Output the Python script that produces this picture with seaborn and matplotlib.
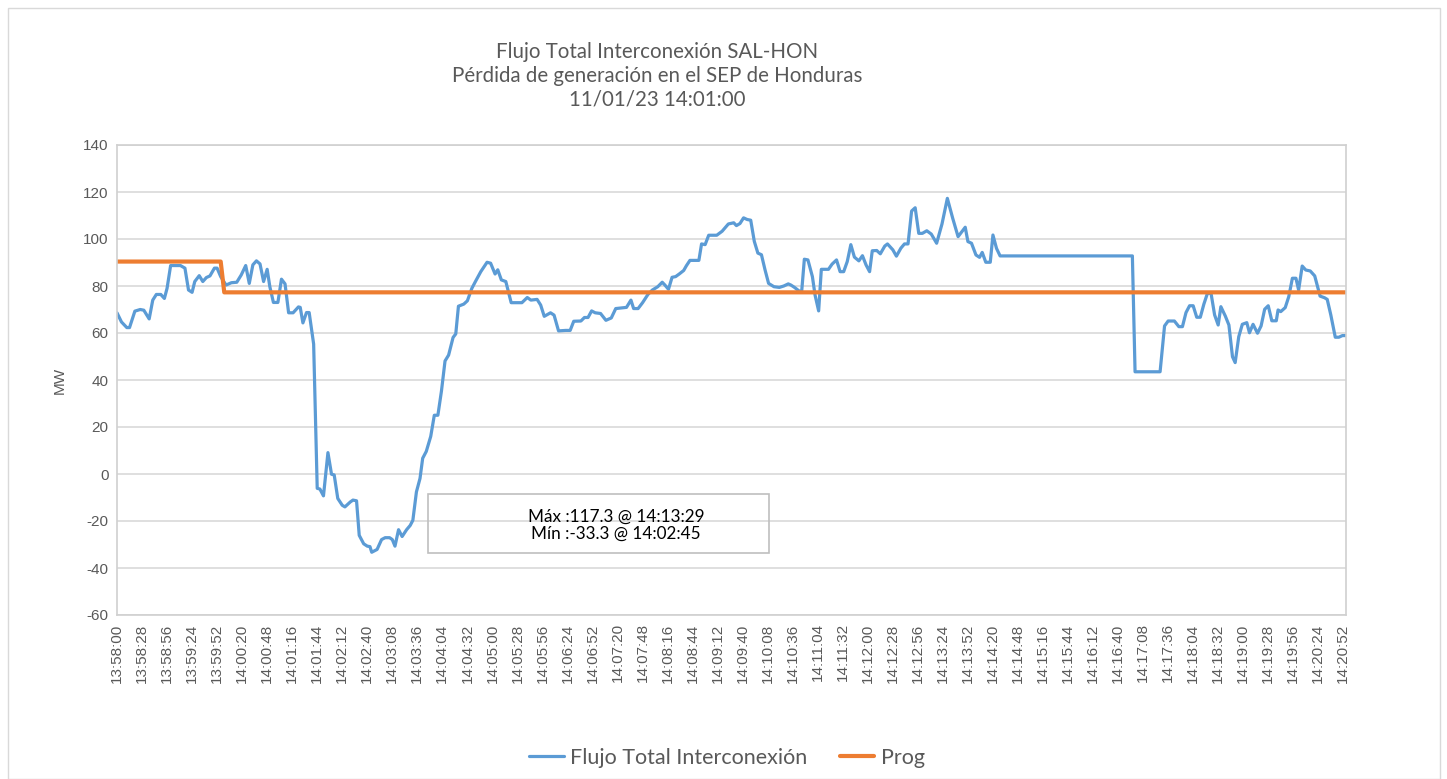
import pandas as pd
import matplotlib.pyplot as plt
import matplotlib.patches as mpatches
from matplotlib.lines import Line2D
import seaborn as sns

# segundos desde 13:58:00 y valor leido (MW)
t_sec = [0, 5, 11, 14, 20, 26, 30, 36, 40, 44, 49, 53, 56, 60, 71, 76, 80, 84, 87, 92,
         96, 100, 104, 109, 112, 116, 122, 128, 134, 139, 144, 148, 152, 156, 160, 164, 168, 171, 175, 180,
         184, 188, 192, 197, 203, 205, 208, 212, 215, 220, 224, 227, 231, 236, 240, 243, 247, 252, 255, 261,
         264, 268, 271, 276, 280, 283, 285, 291, 296, 300, 305, 308, 311, 315, 319, 324, 328, 331, 335, 339,
         342, 346, 351, 355, 359, 363, 367, 371, 376, 379, 382, 388, 392, 397, 401, 407, 414, 418, 423, 426,
         430, 435, 441, 453, 459, 463, 470, 474, 478, 485, 489, 494, 502, 507, 511, 519, 523, 527, 531, 535,
         541, 547, 553, 558, 570, 575, 578, 583, 588, 594, 599, 605, 610, 613, 617, 621, 625, 629, 634, 637,
         641, 651, 654, 658, 662, 671, 677, 684, 690, 693, 697, 701, 705, 709, 713, 717, 721, 725, 729, 735,
         741, 746, 751, 754, 758, 763, 766, 769, 773, 778, 781, 785, 788, 796, 800, 805, 809, 813, 817, 821,
         825, 830, 834, 838, 842, 845, 850, 854, 859, 862, 868, 872, 877, 881, 885, 889, 893, 897, 901, 906,
         911, 917, 923, 929, 935, 941, 949, 952, 956, 961, 965, 968, 972, 977, 980, 984, 988, 1136, 1139, 1167,
         1172, 1176, 1183, 1188, 1192, 1196, 1200, 1204, 1208, 1212, 1216, 1220, 1224, 1228, 1232, 1235, 1240, 1244, 1248, 1251,
         1255, 1259, 1264, 1267, 1271, 1276, 1280, 1284, 1288, 1292, 1297, 1299, 1302, 1307, 1311, 1315, 1319, 1322, 1326, 1330,
         1335, 1340, 1346, 1351, 1354, 1358, 1363, 1367, 1371, 1375]
flujo = [68.6, 64.7, 62.3, 62.3, 69.3, 70.0, 69.7, 66.0, 74.0, 76.4, 76.4, 74.7, 79.0, 88.7, 88.7, 87.6, 78.3, 77.3, 81.9, 84.4,
         81.9, 83.6, 84.3, 87.6, 87.6, 84.0, 80.4, 81.4, 81.6, 84.7, 88.7, 81.1, 89.0, 90.7, 89.4, 81.9, 87.1, 79.7, 73.0, 73.0,
         82.9, 80.9, 68.6, 68.6, 71.1, 70.9, 64.3, 68.7, 68.7, 55.3, -6.1, -6.4, -9.3, 9.1, -0.1, -0.4, -10.4, -13.3, -14.0, -11.9,
         -11.1, -11.4, -26.1, -29.7, -30.7, -30.9, -33.3, -32.1, -27.9, -27.1, -27.1, -27.9, -30.7, -23.7, -26.6, -23.7, -21.9, -19.7, -7.6, -1.9,
         6.7, 9.6, 16.0, 25.0, 25.0, 35.3, 48.1, 50.6, 58.1, 59.6, 71.4, 72.3, 73.7, 79.0, 81.9, 86.1, 90.1, 89.7, 85.1, 86.9,
         82.6, 81.9, 72.9, 72.9, 75.1, 74.0, 74.3, 71.9, 67.1, 68.6, 67.6, 60.9, 61.1, 61.1, 65.0, 65.1, 66.6, 66.6, 69.4, 68.6,
         68.3, 65.4, 66.4, 70.4, 70.9, 74.0, 70.4, 70.4, 72.9, 76.4, 78.3, 79.7, 81.6, 80.4, 78.6, 83.7, 84.0, 85.1, 86.6, 88.6,
         90.9, 90.9, 97.9, 97.6, 101.6, 101.6, 103.3, 106.4, 106.9, 105.7, 106.6, 109.0, 108.3, 108.0, 99.0, 94.0, 93.3, 86.9, 81.1, 79.7,
         79.4, 80.0, 80.9, 80.4, 79.4, 77.9, 77.6, 91.4, 91.1, 84.0, 76.1, 69.4, 87.1, 87.1, 89.3, 91.1, 86.1, 86.1, 90.4, 97.6,
         92.3, 90.7, 92.9, 89.0, 86.1, 95.0, 95.1, 93.7, 97.0, 97.9, 95.4, 92.7, 96.1, 97.9, 97.9, 111.9, 113.3, 102.4, 102.4, 103.5,
         102.1, 98.2, 106.4, 117.3, 108.8, 101.0, 105.0, 98.9, 98.2, 93.2, 92.2, 94.3, 90.1, 90.1, 101.7, 96.0, 92.8, 92.8, 43.5, 43.5,
         63.0, 65.1, 65.1, 62.7, 62.7, 68.7, 71.6, 71.6, 66.7, 66.7, 72.3, 76.9, 76.9, 67.7, 63.4, 71.2, 67.2, 63.4, 49.9, 47.4,
         58.4, 63.7, 64.4, 60.1, 63.7, 59.9, 63.0, 70.1, 71.6, 65.2, 65.2, 69.8, 69.1, 70.8, 75.5, 83.3, 83.3, 78.3, 88.5, 86.8,
         86.4, 84.3, 75.7, 75.0, 74.3, 67.7, 58.2, 58.2, 58.9, 58.9]

prog_t = [0, 116, 120, 1375]
prog = [90.4, 90.4, 77.3, 77.3]

titulo = ['Flujo Total Interconexión SAL-HON',
          'Pérdida de generación en el SEP de Honduras',
          '11/01/23 14:01:00']
texto_caja = 'Máx :117.3 @ 14:13:29\nMín :-33.3 @ 14:02:45'

df = pd.DataFrame({'t': t_sec, 'MW': flujo})
df_prog = pd.DataFrame({'t': prog_t, 'MW': prog})

sns.set_style('white')
plt.rcParams['font.family'] = ['Lato', 'DejaVu Sans']
plt.rcParams['axes.unicode_minus'] = False

azul = '#5B9BD5'
naranja = '#ED7D31'
gris = '#595959'
fuente_ejes = ['Liberation Sans', 'DejaVu Sans']

fig = plt.figure(figsize=(14.47, 7.79), dpi=100)
ax = fig.add_axes([117 / 1447, 1 - 615 / 779, 1229 / 1447, 470 / 779])

sns.lineplot(data=df, x='t', y='MW', color=azul, linewidth=2.3, ax=ax)
sns.lineplot(data=df_prog, x='t', y='MW', color=naranja, linewidth=3.0, ax=ax)

ax.set_xlim(0, 1375)
ax.set_ylim(-60, 140)
ax.set_yticks(range(-60, 141, 20))
ticks = list(range(0, 1373, 28))
labels = []
for s in ticks:
    tot = 13 * 3600 + 58 * 60 + s
    labels.append('%02d:%02d:%02d' % (tot // 3600, (tot // 60) % 60, tot % 60))
ax.set_xticks(ticks)
ax.set_xticklabels(labels, rotation=90, fontsize=11, color=gris, family=fuente_ejes)
for lab in ax.get_yticklabels():
    lab.set_fontsize(11)
    lab.set_color(gris)
    lab.set_family(fuente_ejes)
ax.tick_params(length=0, pad=6)
ax.set_xlabel('')
ax.set_ylabel('MW', fontsize=11, color=gris, family=fuente_ejes, labelpad=12)
ax.grid(axis='y', color='#D9D9D9', linewidth=1.2)
for sp in ax.spines.values():
    sp.set_color('#D0D0D0')
    sp.set_linewidth(1.2)

# titulo
for i, linea in enumerate(titulo):
    fig.text(657 / 1447, 1 - (52 + i * 23.5) / 779, linea, ha='center', va='center',
             fontsize=14.8, color=gris)

# caja de texto
fig.patches.append(mpatches.Rectangle((428 / 1447, 1 - 553 / 779), 341 / 1447, 59 / 779,
                                      transform=fig.transFigure, fill=False,
                                      edgecolor='#BFBFBF', linewidth=1.2))
fig.text(616 / 1447, 1 - 525.5 / 779, texto_caja, ha='center', va='center',
         fontsize=12.3, color='black', linespacing=1.1)

# borde exterior
fig.patches.append(mpatches.Rectangle((8 / 1447, 0), 1432 / 1447, 1 - 8 / 779,
                                      transform=fig.transFigure, fill=False,
                                      edgecolor='#D9D9D9', linewidth=1))

handles = [Line2D([], [], color=azul, linewidth=2.3),
           Line2D([], [], color=naranja, linewidth=3.0)]
fig.legend(handles, ['Flujo Total Interconexión', 'Prog'], loc='center',
           bbox_to_anchor=(727 / 1447, 1 - 758 / 779), ncol=2, frameon=False,
           fontsize=15.5, labelcolor=gris, handlelength=1.6, handletextpad=0.3,
           columnspacing=1.5)

plt.savefig('out.png', dpi=100)
plt.close()
